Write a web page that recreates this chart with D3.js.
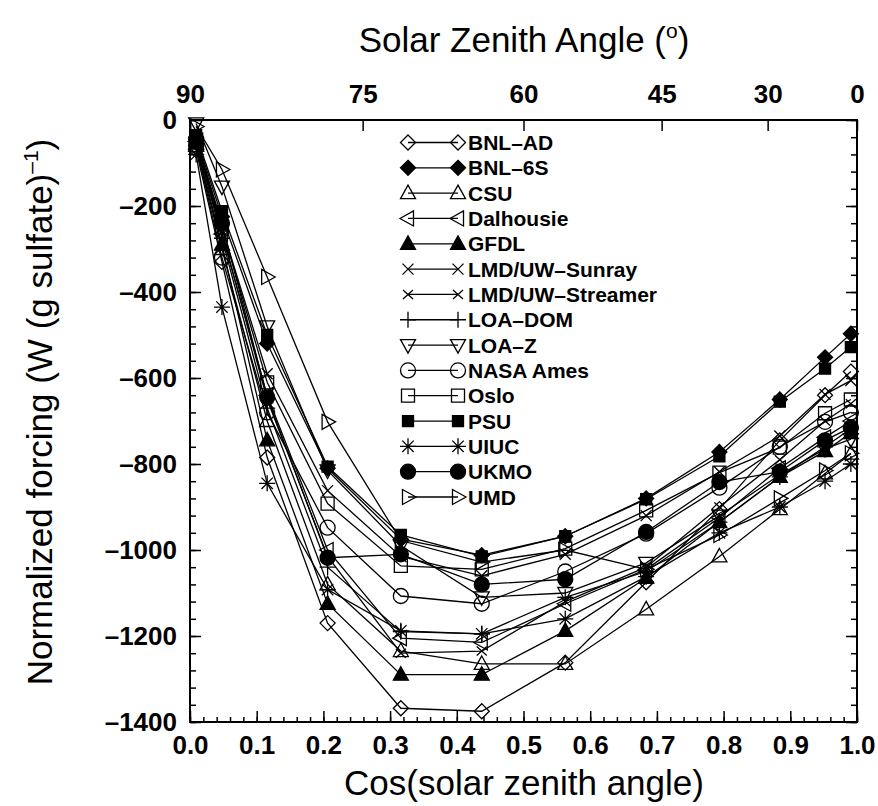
<!DOCTYPE html>
<html lang="en">
<head>
  <meta charset="UTF-8">
  <title>Normalized forcing vs cos(solar zenith angle)</title>
  <style>
    html, body {
      margin: 0;
      padding: 0;
      background: #fff;
      overflow: hidden;
    }
    svg {
      display: block;
      font-family: 'Liberation Sans', Arial, Helvetica, sans-serif;
    }
    .tick text {
      font-size: 26px;
      font-weight: bold;
      fill: #000;
    }
    .tick line {
      stroke: #000;
      stroke-width: 1.5;
    }
    .title {
      font-size: 35px;
      fill: #000;
    }
    .legend text {
      font-size: 21px;
      font-weight: bold;
    }
  </style>
</head>
<body>
<svg width="878" height="806"></svg>
<script src="https://d3js.org/d3.v7.min.js"></script>
<script>
// cos(solar zenith angle) at which every model was run
const cosSza = [0.0092, 0.0479, 0.1157, 0.2063, 0.3161, 0.4374, 0.5626, 0.6839, 0.7937, 0.8843, 0.9521, 0.9908];

// normalized forcing, W (g sulfate)^-1, one list per model
const bnlAd       = [-70, -330, -785, -1170, -1368, -1375, -1262, -1075, -905, -745, -640, -585];
const bnl6s       = [-40, -225, -520, -810, -975, -1012, -968, -880, -772, -650, -552, -497];
const csu         = [-60, -300, -700, -1080, -1235, -1265, -1265, -1138, -1015, -905, -822, -776];
const dalhousie   = [-50, -265, -640, -1000, -1205, -1215, -1125, -1045, -925, -810, -738, -700];
const gfdl        = [-55, -290, -745, -1125, -1290, -1290, -1188, -1065, -935, -830, -770, -728];
const lmdSunray   = [-45, -250, -590, -862, -1015, -1060, -1010, -920, -818, -735, -638, -606];
const lmdStreamer = [-45, -260, -650, -1015, -1240, -1235, -1120, -1040, -900, -790, -700, -660];
const loaDom      = [-50, -275, -670, -1040, -1190, -1195, -1110, -1050, -935, -830, -760, -718];
const loaZ        = [-8, -155, -480, -815, -990, -1110, -1100, -1030, -920, -825, -765, -742];
const nasaAmes    = [-60, -320, -680, -948, -1107, -1125, -1050, -962, -855, -760, -702, -680];
const oslo        = [-45, -250, -610, -892, -1037, -1045, -997, -908, -820, -762, -682, -650];
const psu         = [-35, -212, -500, -806, -965, -1015, -968, -882, -782, -655, -578, -528];
const uiuc        = [-80, -435, -845, -1092, -1188, -1195, -1160, -1062, -960, -900, -840, -800];
const ukmo        = [-45, -240, -645, -1018, -1010, -1080, -1068, -958, -842, -818, -745, -715];
const umd         = [-15, -115, -365, -702, -978, -1028, -1000, -1045, -965, -880, -815, -775];

const modelNames = ["BNL–AD", "BNL–6S", "CSU", "Dalhousie", "GFDL", "LMD/UW–Sunray", "LMD/UW–Streamer",
  "LOA–DOM", "LOA–Z", "NASA Ames", "Oslo", "PSU", "UIUC", "UKMO", "UMD"];
const modelValues = [bnlAd, bnl6s, csu, dalhousie, gfdl, lmdSunray, lmdStreamer,
  loaDom, loaZ, nasaAmes, oslo, psu, uiuc, ukmo, umd];
const modelMarkers = ["diamond", "diamondFilled", "triUp", "triLeft", "triUpFilled", "cross", "crossSmall",
  "plus", "triDown", "circle", "square", "squareFilled", "star", "circleFilled", "triRight"];

const yTicks = [0, -200, -400, -600, -800, -1000, -1200, -1400];
const xTicks = [0, 0.1, 0.2, 0.3, 0.4, 0.5, 0.6, 0.7, 0.8, 0.9, 1.0];
const zenithTicks = [90, 75, 60, 45, 30, 0];

const svg = d3.select("svg");
const pLeft = 190, pRight = 857, pTop = 120, pBottom = 722;

const x = d3.scaleLinear().domain([0, 1]).range([pLeft, pRight]);
const y = d3.scaleLinear().domain([-1400, 0]).range([pBottom, pTop]);

// marker shapes
function markerPath(kind) {
  switch (kind) {
    case "diamond":
    case "diamondFilled": return "M0,-7.5L7.5,0L0,7.5L-7.5,0Z";
    case "triUp":
    case "triUpFilled": return "M0,-8L7.5,5.5L-7.5,5.5Z";
    case "triDown": return "M0,8L7.5,-5.5L-7.5,-5.5Z";
    case "triLeft": return "M-8,0L5.5,-7.5L5.5,7.5Z";
    case "triRight": return "M8,0L-5.5,-7.5L-5.5,7.5Z";
    case "cross": return "M-5.5,-5.5L5.5,5.5M-5.5,5.5L5.5,-5.5";
    case "crossSmall": return "M-5,-4.5L5,4.5M-5,4.5L5,-4.5";
    case "plus": return "M-8,0H8M0,-8V8";
    case "star": return "M-8,0H8M0,-8V8M-5.7,-5.7L5.7,5.7M-5.7,5.7L5.7,-5.7";
    case "circle":
    case "circleFilled": return "M7.5,0A7.5,7.5 0 1,1 -7.5,0A7.5,7.5 0 1,1 7.5,0Z";
    case "square": return "M-6.5,-6.5H6.5V6.5H-6.5Z";
    case "squareFilled": return "M-5.5,-5.5H5.5V5.5H-5.5Z";
  }
}
const isFilled = k => k.endsWith("Filled");

function drawMarker(g, kind, cx, cy) {
  g.append("path")
    .attr("d", markerPath(kind))
    .attr("transform", `translate(${cx},${cy})`)
    .attr("fill", isFilled(kind) ? "#000" : "none")
    .attr("stroke", "#000")
    .attr("stroke-width", 1.3);
}

// axes: ticks point into the frame
function styleAxis(g) {
  g.select(".domain").remove();
}

svg.append("g")
  .attr("transform", `translate(${pLeft},0)`)
  .call(d3.axisLeft(y).tickValues(d3.range(-1400, 1, 40)).tickSize(-6).tickFormat(""))
  .call(styleAxis);
svg.append("g")
  .attr("transform", `translate(${pLeft},0)`)
  .call(d3.axisLeft(y).tickValues(yTicks).tickSize(-11).tickPadding(13)
    .tickFormat(d => d === 0 ? "0" : "–" + Math.abs(d)))
  .call(styleAxis);

svg.append("g")
  .attr("transform", `translate(${pRight},0)`)
  .call(d3.axisRight(y).tickValues(d3.range(-1400, 1, 40)).tickSize(-6).tickFormat(""))
  .call(styleAxis);
svg.append("g")
  .attr("transform", `translate(${pRight},0)`)
  .call(d3.axisRight(y).tickValues(yTicks).tickSize(-11).tickFormat(""))
  .call(styleAxis);

svg.append("g")
  .attr("transform", `translate(0,${pBottom})`)
  .call(d3.axisBottom(x).tickValues(d3.range(0, 1.001, 0.02)).tickSize(-5).tickFormat(""))
  .call(styleAxis);
svg.append("g")
  .attr("transform", `translate(0,${pBottom})`)
  .call(d3.axisBottom(x).tickValues(xTicks).tickSize(-11).tickPadding(14).tickFormat(d3.format(".1f")))
  .call(styleAxis);

svg.append("g")
  .attr("transform", `translate(0,${pTop})`)
  .call(d3.axisTop(x).tickValues(zenithTicks.map(a => Math.cos(a * Math.PI / 180)))
    .tickSize(-11).tickPadding(17).tickFormat((d, i) => zenithTicks[i]))
  .call(styleAxis);

// frame
svg.append("rect")
  .attr("x", pLeft).attr("y", pTop)
  .attr("width", pRight - pLeft).attr("height", pBottom - pTop)
  .attr("fill", "none").attr("stroke", "#000").attr("stroke-width", 2);

// series
const plot = svg.append("g");
const line = d3.line().x((d, i) => x(cosSza[i])).y(d => y(d));
modelValues.forEach(vals => {
  plot.append("path")
    .attr("d", line(vals))
    .attr("fill", "none")
    .attr("stroke", "#000")
    .attr("stroke-width", 1.3);
});
modelValues.forEach((vals, m) => {
  const g = plot.append("g");
  vals.forEach((v, i) => drawMarker(g, modelMarkers[m], x(cosSza[i]), y(v)));
});

// legend
const legend = svg.append("g").attr("class", "legend");
const legY = d3.scalePoint().domain(modelNames).range([142.5, 497]);
modelNames.forEach((name, m) => {
  const ly = legY(name);
  legend.append("line")
    .attr("x1", 408).attr("x2", 458).attr("y1", ly).attr("y2", ly)
    .attr("stroke", "#000").attr("stroke-width", 1.3);
  drawMarker(legend, modelMarkers[m], 408, ly);
  drawMarker(legend, modelMarkers[m], 458, ly);
  legend.append("text")
    .attr("x", 468).attr("y", ly)
    .attr("dy", "0.36em")
    .text(name);
});

// titles
const topTitle = svg.append("text")
  .attr("class", "title")
  .attr("x", 524).attr("y", 52)
  .attr("text-anchor", "middle");
topTitle.append("tspan").text("Solar Zenith Angle (");
topTitle.append("tspan").attr("font-size", "21px").attr("dy", "-14").text("o");
topTitle.append("tspan").attr("dy", "14").text(")");

svg.append("text")
  .attr("class", "title")
  .attr("x", 524).attr("y", 795)
  .attr("text-anchor", "middle")
  .text("Cos(solar zenith angle)");

const yTitle = svg.append("text")
  .attr("class", "title")
  .attr("transform", "translate(52,412) rotate(-90)")
  .attr("text-anchor", "middle");
yTitle.append("tspan").text("Normalized forcing (W (g sulfate)");
yTitle.append("tspan").attr("font-size", "21px").attr("dy", "-14").text("–1");
yTitle.append("tspan").attr("dy", "14").text(")");
</script>
</body>
</html>
